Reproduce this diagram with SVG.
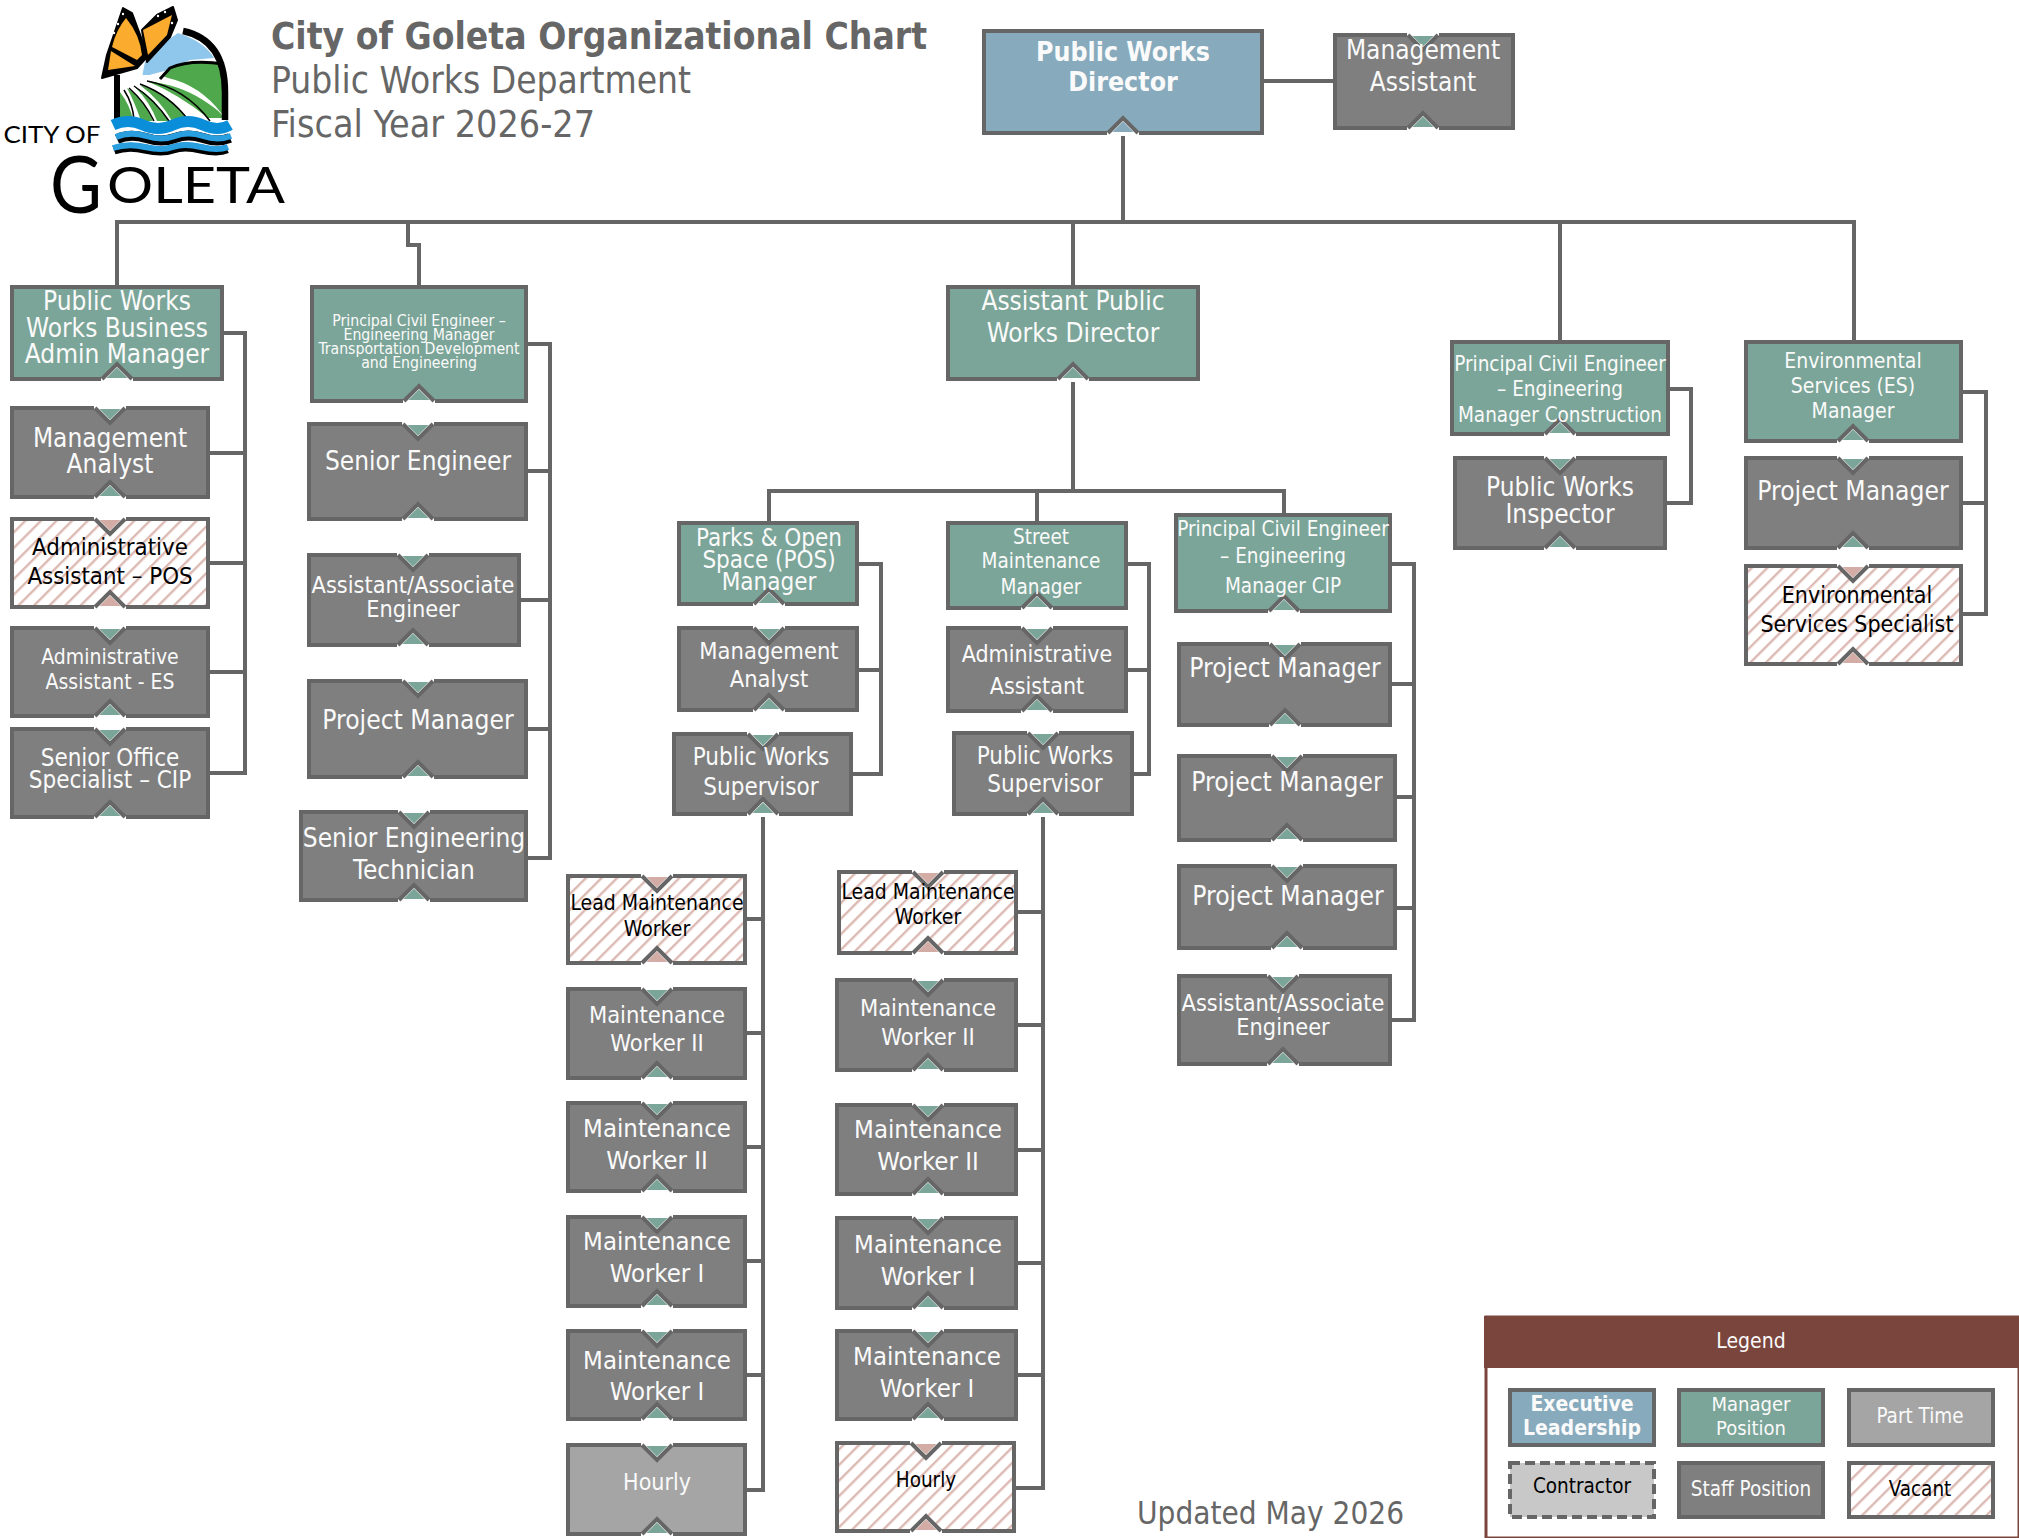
<svg xmlns="http://www.w3.org/2000/svg" width="2019" height="1538" viewBox="0 0 2019 1538">
<style>
text{font-family:"DejaVu Sans Condensed","DejaVu Sans",Tahoma,sans-serif;font-stretch:condensed;text-anchor:middle}
.w{fill:#fafafa}.k{fill:#000}
.b{stroke:#666;stroke-width:4}
.sb{fill:#87aabd}.mg{fill:#7ba598}.st{fill:#7f7f7f}.pt{fill:#a5a5a5}.va{fill:url(#hatch)}
.c{fill:none;stroke:#666;stroke-width:4}
.h{fill:#666;text-anchor:start}
.lg{font-family:Lato,sans-serif;font-stretch:normal;fill:#000}
</style>
<defs>
<pattern id="hatch" width="11" height="11" patternUnits="userSpaceOnUse" patternTransform="rotate(45)"><rect width="11" height="11" fill="#fff"/><rect width="2.4" height="11" fill="#dcb9b3"/></pattern>
<g id="tt"><path d="M-16,-3H16V1L0,17L-16,1Z" fill="#fff"/><path d="M-10.5,1H10.5L0,11.5Z" fill="#7ba598"/><path d="M-15,0L0,15L15,0" fill="none" stroke="#666" stroke-width="4"/></g>
<g id="bt"><path d="M-16,3H16V-1L0,-17L-16,-1Z" fill="#fff"/><path d="M-10.5,-1H10.5L0,-11.5Z" fill="#7ba598"/><path d="M-15,0L0,-15L15,0" fill="none" stroke="#666" stroke-width="4"/></g>
<g id="tp"><path d="M-16,-3H16V1L0,17L-16,1Z" fill="#fff"/><path d="M-10.5,1H10.5L0,11.5Z" fill="#d3aca5"/><path d="M-15,0L0,15L15,0" fill="none" stroke="#666" stroke-width="4"/></g>
<g id="bp"><path d="M-16,3H16V-1L0,-17L-16,-1Z" fill="#fff"/><path d="M-10.5,-1H10.5L0,-11.5Z" fill="#d3aca5"/><path d="M-15,0L0,-15L15,0" fill="none" stroke="#666" stroke-width="4"/></g>
<g id="bb"><path d="M-16,3H16V-1L0,-17L-16,-1Z" fill="#fff"/><path d="M-10.5,-1H10.5L0,-11.5Z" fill="#87aabd"/><path d="M-15,0L0,-15L15,0" fill="none" stroke="#666" stroke-width="4"/></g>
</defs>

<g id="logo">
<path d="M178,33Q205,42 214,58L190,60L168,70L142,77L145,62L165,42Z" fill="#8fc7ec"/>
<path d="M160,78L170,68Q190,60 222,64V118H120V92Z" fill="#4fa84b"/>
<path d="M120,75H160L168,78Q200,85 222,114V120H120Z" fill="#fff"/>
<path d="M147,81Q180,85 203,100T222,118H208Q180,95 147,81Z" fill="#4fa84b"/>
<path d="M120,92Q130,105 133,120H120Z" fill="#4fa84b"/>
<path d="M127,88Q143,98 153,121H141Q135,103 127,88Z" fill="#4fa84b"/>
<path d="M135,87Q155,97 168,121H157Q150,102 135,87Z" fill="#4fa84b"/>
<path d="M140,85Q170,93 188,121H172Q160,100 140,85Z" fill="#4fa84b"/>
<g fill="none" stroke="#000" stroke-width="1.5"><path d="M124,90Q133,104 134,120"/><path d="M129,88Q145,102 154,121"/><path d="M134,86Q155,100 169,121"/><path d="M140,84Q170,95 189,121"/><path d="M147,81Q185,88 210,121"/></g>
<path d="M160,79L170,68Q190,59 224,64" fill="none" stroke="#000" stroke-width="3"/>
<path d="M183,31Q225,40 225,92V120" fill="none" stroke="#000" stroke-width="6.5"/>
<path d="M117,75V120" fill="none" stroke="#000" stroke-width="6"/>
<path d="M113,125Q128,118 143,125T173,125T203,125T230,125" fill="none" stroke="#0a8ed9" stroke-width="11"/>
<g fill="none"><path stroke="#000" stroke-width="10" d="M117,139Q130,133 146,138T175,138T203,138T230,138"/><path stroke="#2a9fe0" stroke-width="6" d="M116,137Q130,131 146,136T175,136T203,136T231,136"/><path stroke="#000" stroke-width="9" d="M114,150Q128,145 145,149T173,149T201,149T227,149"/><path stroke="#2a9fe0" stroke-width="6" d="M113,148Q128,143 145,147T173,147T201,147T228,147"/></g>
<path d="M123,8L107,55L102,78L137,68L147,57L142,40L132,13Z" fill="#000" stroke="#000" stroke-width="2" stroke-linejoin="round"/>
<path d="M126,18Q116,30 112,47L137,60L142,55Q140,35 126,18Z" fill="#fbab2e"/>
<path d="M111,51L108,70L135,66Z" fill="#fbab2e"/>
<path d="M173,7L177,20L170,37L147,62L142,30L157,15Z" fill="#000" stroke="#000" stroke-width="2" stroke-linejoin="round"/>
<path d="M172,15L143,30L148,55L167,35Z" fill="#fbab2e"/>
<g fill="#fff"><circle cx="123" cy="14" r="1.2"/><circle cx="118" cy="24" r="1.2"/><circle cx="114" cy="33" r="1.2"/><circle cx="165" cy="12" r="1.2"/><circle cx="158" cy="16" r="1.2"/><circle cx="172" cy="23" r="1.2"/></g>
<text class="lg" x="52" y="143" font-size="24" textLength="97" lengthAdjust="spacingAndGlyphs">CITY OF</text>
<text class="lg" x="76" y="213" font-size="80" textLength="52" lengthAdjust="spacingAndGlyphs">G</text>
<text class="lg" x="196" y="203" font-size="50" textLength="178" lengthAdjust="spacingAndGlyphs">OLETA</text>
</g>

<g id="title">
<text class="h" x="271" y="49" font-size="37" font-weight="700" textLength="656" lengthAdjust="spacingAndGlyphs">City of Goleta Organizational Chart</text>
<text class="h" x="271" y="93" font-size="37" textLength="420" lengthAdjust="spacingAndGlyphs">Public Works Department</text>
<text class="h" x="271" y="137" font-size="37" textLength="324" lengthAdjust="spacingAndGlyphs">Fiscal Year 2026-27</text>
<text class="h" x="1137" y="1524" font-size="32" textLength="267" lengthAdjust="spacingAndGlyphs">Updated May 2026</text>
</g>

<g id="connectors">
<path class="c" d="M1263,81H1334"/>
<path class="c" d="M1123,125V222"/>
<path class="c" d="M117,286V222H1854V342"/>
<path class="c" d="M408,222V245H419V286"/>
<path class="c" d="M1073,222V491"/>
<path class="c" d="M1560,222V342"/>
<path class="c" d="M769,523V491H1284V515"/>
<path class="c" d="M1037,491V523"/>
<path class="c" d="M223,333H245V773H209M209,453H245M209,563H245M209,672H245"/>
<path class="c" d="M527,344H550V858H527M527,471H550M520,600H550M527,729H550"/>
<path class="c" d="M1669,389H1691V503H1666"/>
<path class="c" d="M1962,392H1986V614H1962M1962,503H1986"/>
<path class="c" d="M858,564H881V774H852M858,670H881"/>
<path class="c" d="M1127,564H1149V774H1133M1127,670H1149"/>
<path class="c" d="M763,815V1490H746M746,919H763M746,1033H763M746,1147H763M746,1261H763M746,1375H763"/>
<path class="c" d="M1043,815V1488H1015M1017,912H1043M1017,1025H1043M1017,1150H1043M1017,1263H1043M1017,1375H1043"/>
<path class="c" d="M1391,564H1414V1020H1391M1391,684H1414M1396,797H1414M1396,908H1414"/>
</g>

<g id="n-director"><rect class="b sb" x="984" y="31" width="278" height="102"/><use href="#bb" x="1123" y="133"/><text class="w" x="1123" y="61" font-size="26.5" font-weight="700">Public Works</text><text class="w" x="1123" y="91" font-size="26.5" font-weight="700">Director</text></g>
<g id="n-mgmt-assistant"><rect class="b st" x="1335" y="35" width="178" height="93"/><use href="#tt" x="1423" y="35"/><use href="#bt" x="1423" y="128"/><text class="w" x="1423" y="59" font-size="26">Management</text><text class="w" x="1423" y="91" font-size="26">Assistant</text></g>

<g id="n-biz-admin"><rect class="b mg" x="12" y="287" width="210" height="92"/><use href="#bt" x="117" y="379"/><text class="w" x="117" y="310" font-size="26">Public Works</text><text class="w" x="117" y="337" font-size="26">Works Business</text><text class="w" x="117" y="363" font-size="26">Admin Manager</text></g>
<g id="n-pce-td"><rect class="b mg" x="312" y="287" width="214" height="114"/><use href="#bt" x="419" y="401"/><text class="w" x="419" y="326" font-size="15.7">Principal Civil Engineer –</text><text class="w" x="419" y="340" font-size="15.7">Engineering Manager</text><text class="w" x="419" y="354" font-size="15.7">Transportation Development</text><text class="w" x="419" y="368" font-size="15.7">and Engineering</text></g>
<g id="n-mgmt-analyst-1"><rect class="b st" x="12" y="408" width="196" height="89"/><use href="#tt" x="110" y="408"/><use href="#bt" x="110" y="497"/><text class="w" x="110" y="447" font-size="26">Management</text><text class="w" x="110" y="473" font-size="26">Analyst</text></g>
<g id="n-admin-pos"><rect class="b va" x="12" y="519" width="196" height="88"/><use href="#tp" x="110" y="519"/><use href="#bp" x="110" y="607"/><text class="k" x="110" y="555" font-size="23.8">Administrative</text><text class="k" x="110" y="584" font-size="23.8">Assistant – POS</text></g>
<g id="n-admin-es"><rect class="b st" x="12" y="628" width="196" height="88"/><use href="#tt" x="110" y="628"/><use href="#bt" x="110" y="716"/><text class="w" x="110" y="664" font-size="21">Administrative</text><text class="w" x="110" y="689" font-size="21">Assistant - ES</text></g>
<g id="n-senior-office"><rect class="b st" x="12" y="729" width="196" height="88"/><use href="#tt" x="110" y="729"/><use href="#bt" x="110" y="817"/><text class="w" x="110" y="766" font-size="24">Senior Office</text><text class="w" x="110" y="788" font-size="24">Specialist – CIP</text></g>

<g id="n-senior-engineer"><rect class="b st" x="309" y="424" width="217" height="95"/><use href="#tt" x="418" y="424"/><use href="#bt" x="418" y="519"/><text class="w" x="418" y="470" font-size="26">Senior Engineer</text></g>
<g id="n-assoc-1"><rect class="b st" x="309" y="555" width="210" height="90"/><use href="#tt" x="413" y="555"/><use href="#bt" x="413" y="645"/><text class="w" x="413" y="593" font-size="23.3">Assistant/Associate</text><text class="w" x="413" y="617" font-size="23.3">Engineer</text></g>
<g id="n-pm-1"><rect class="b st" x="309" y="681" width="217" height="96"/><use href="#tt" x="418" y="681"/><use href="#bt" x="418" y="777"/><text class="w" x="418" y="729" font-size="26.2">Project Manager</text></g>
<g id="n-tech"><rect class="b st" x="301" y="812" width="225" height="88"/><use href="#tt" x="414" y="812"/><use href="#bt" x="414" y="900"/><text class="w" x="414" y="847" font-size="26">Senior Engineering</text><text class="w" x="414" y="879" font-size="26">Technician</text></g>

<g id="n-asst-director"><rect class="b mg" x="948" y="287" width="250" height="92"/><use href="#bt" x="1073" y="379"/><text class="w" x="1073" y="310" font-size="26">Assistant Public</text><text class="w" x="1073" y="342" font-size="26">Works Director</text></g>
<g id="n-pce-const"><rect class="b mg" x="1452" y="342" width="216" height="92"/><use href="#bt" x="1560" y="434"/><text class="w" x="1560" y="371" font-size="20.5">Principal Civil Engineer</text><text class="w" x="1560" y="396" font-size="20.5">– Engineering</text><text class="w" x="1560" y="422" font-size="20.5">Manager Construction</text></g>
<g id="n-inspector"><rect class="b st" x="1455" y="458" width="210" height="90"/><use href="#tt" x="1560" y="458"/><use href="#bt" x="1560" y="548"/><text class="w" x="1560" y="496" font-size="26">Public Works</text><text class="w" x="1560" y="523" font-size="26">Inspector</text></g>
<g id="n-es-manager"><rect class="b mg" x="1746" y="342" width="215" height="99"/><use href="#bt" x="1853" y="441"/><text class="w" x="1853" y="368" font-size="21">Environmental</text><text class="w" x="1853" y="393" font-size="21">Services (ES)</text><text class="w" x="1853" y="418" font-size="21">Manager</text></g>
<g id="n-pm-es"><rect class="b st" x="1746" y="458" width="215" height="90"/><use href="#tt" x="1853" y="458"/><use href="#bt" x="1853" y="548"/><text class="w" x="1853" y="500" font-size="26.2">Project Manager</text></g>
<g id="n-es-specialist"><rect class="b va" x="1746" y="566" width="215" height="98"/><use href="#tp" x="1853" y="566"/><use href="#bp" x="1853" y="664"/><text class="k" x="1857" y="603" font-size="23">Environmental</text><text class="k" x="1857" y="632" font-size="23">Services Specialist</text></g>

<g id="n-parks"><rect class="b mg" x="679" y="523" width="178" height="81"/><use href="#bt" x="769" y="604"/><text class="w" x="769" y="546" font-size="24">Parks &amp; Open</text><text class="w" x="769" y="568" font-size="24">Space (POS)</text><text class="w" x="769" y="590" font-size="24">Manager</text></g>
<g id="n-mgmt-analyst-2"><rect class="b st" x="679" y="628" width="178" height="82"/><use href="#tt" x="769" y="628"/><use href="#bt" x="769" y="710"/><text class="w" x="769" y="659" font-size="23.5">Management</text><text class="w" x="769" y="687" font-size="23.5">Analyst</text></g>
<g id="n-sup-1"><rect class="b st" x="674" y="734" width="177" height="80"/><use href="#tt" x="763" y="734"/><use href="#bt" x="763" y="814"/><text class="w" x="761" y="765" font-size="24">Public Works</text><text class="w" x="761" y="795" font-size="24">Supervisor</text></g>
<g id="n-lead-1"><rect class="b va" x="568" y="876" width="177" height="87"/><use href="#tp" x="657" y="876"/><use href="#bp" x="657" y="963"/><text class="k" x="657" y="910" font-size="21">Lead Maintenance</text><text class="k" x="657" y="936" font-size="21">Worker</text></g>
<g id="n-mw-11"><rect class="b st" x="568" y="989" width="177" height="89"/><use href="#tt" x="657" y="989"/><use href="#bt" x="657" y="1078"/><text class="w" x="657" y="1023" font-size="23.5">Maintenance</text><text class="w" x="657" y="1051" font-size="23.5">Worker II</text></g>
<g id="n-mw-12"><rect class="b st" x="568" y="1103" width="177" height="88"/><use href="#tt" x="657" y="1103"/><use href="#bt" x="657" y="1191"/><text class="w" x="657" y="1137" font-size="25.5">Maintenance</text><text class="w" x="657" y="1169" font-size="25.5">Worker II</text></g>
<g id="n-mw-13"><rect class="b st" x="568" y="1217" width="177" height="89"/><use href="#tt" x="657" y="1217"/><use href="#bt" x="657" y="1306"/><text class="w" x="657" y="1250" font-size="25.5">Maintenance</text><text class="w" x="657" y="1282" font-size="25.5">Worker I</text></g>
<g id="n-mw-14"><rect class="b st" x="568" y="1331" width="177" height="88"/><use href="#tt" x="657" y="1331"/><use href="#bt" x="657" y="1419"/><text class="w" x="657" y="1369" font-size="25.5">Maintenance</text><text class="w" x="657" y="1400" font-size="25.5">Worker I</text></g>
<g id="n-hourly-1"><rect class="b pt" x="568" y="1445" width="177" height="89"/><use href="#tt" x="657" y="1445"/><use href="#bt" x="657" y="1534"/><text class="w" x="657" y="1490" font-size="23">Hourly</text></g>

<g id="n-street"><rect class="b mg" x="948" y="523" width="178" height="85"/><use href="#bt" x="1037" y="608"/><text class="w" x="1041" y="544" font-size="20.5">Street</text><text class="w" x="1041" y="568" font-size="20.5">Maintenance</text><text class="w" x="1041" y="594" font-size="20.5">Manager</text></g>
<g id="n-admin-st"><rect class="b st" x="948" y="628" width="178" height="83"/><use href="#tt" x="1037" y="628"/><use href="#bt" x="1037" y="711"/><text class="w" x="1037" y="662" font-size="23">Administrative</text><text class="w" x="1037" y="694" font-size="23">Assistant</text></g>
<g id="n-sup-2"><rect class="b st" x="954" y="733" width="178" height="81"/><use href="#tt" x="1043" y="733"/><use href="#bt" x="1043" y="814"/><text class="w" x="1045" y="764" font-size="24">Public Works</text><text class="w" x="1045" y="792" font-size="24">Supervisor</text></g>
<g id="n-lead-2"><rect class="b va" x="839" y="872" width="177" height="81"/><use href="#tp" x="928" y="872"/><use href="#bp" x="928" y="953"/><text class="k" x="928" y="899" font-size="21">Lead Maintenance</text><text class="k" x="928" y="924" font-size="21">Worker</text></g>
<g id="n-mw-21"><rect class="b st" x="837" y="980" width="179" height="90"/><use href="#tt" x="928" y="980"/><use href="#bt" x="928" y="1070"/><text class="w" x="928" y="1016" font-size="23.5">Maintenance</text><text class="w" x="928" y="1045" font-size="23.5">Worker II</text></g>
<g id="n-mw-22"><rect class="b st" x="837" y="1105" width="179" height="89"/><use href="#tt" x="928" y="1105"/><use href="#bt" x="928" y="1194"/><text class="w" x="928" y="1138" font-size="25.5">Maintenance</text><text class="w" x="928" y="1170" font-size="25.5">Worker II</text></g>
<g id="n-mw-23"><rect class="b st" x="837" y="1218" width="179" height="90"/><use href="#tt" x="928" y="1218"/><use href="#bt" x="928" y="1308"/><text class="w" x="928" y="1253" font-size="25.5">Maintenance</text><text class="w" x="928" y="1285" font-size="25.5">Worker I</text></g>
<g id="n-mw-24"><rect class="b st" x="837" y="1331" width="179" height="88"/><use href="#tt" x="928" y="1331"/><use href="#bt" x="928" y="1419"/><text class="w" x="927" y="1365" font-size="25.5">Maintenance</text><text class="w" x="927" y="1397" font-size="25.5">Worker I</text></g>
<g id="n-hourly-2"><rect class="b va" x="837" y="1443" width="177" height="88"/><use href="#tp" x="926" y="1443"/><use href="#bp" x="926" y="1531"/><text class="k" x="926" y="1487" font-size="20.5">Hourly</text></g>

<g id="n-pce-cip"><rect class="b mg" x="1176" y="515" width="214" height="96"/><use href="#bt" x="1284" y="611"/><text class="w" x="1283" y="536" font-size="20.5">Principal Civil Engineer</text><text class="w" x="1283" y="563" font-size="20.5">– Engineering</text><text class="w" x="1283" y="593" font-size="20.5">Manager CIP</text></g>
<g id="n-pm-2"><rect class="b st" x="1179" y="644" width="211" height="81"/><use href="#tt" x="1285" y="644"/><use href="#bt" x="1285" y="725"/><text class="w" x="1285" y="677" font-size="26.2">Project Manager</text></g>
<g id="n-pm-3"><rect class="b st" x="1179" y="756" width="216" height="84"/><use href="#tt" x="1287" y="756"/><use href="#bt" x="1287" y="840"/><text class="w" x="1287" y="791" font-size="26.2">Project Manager</text></g>
<g id="n-pm-4"><rect class="b st" x="1179" y="866" width="216" height="82"/><use href="#tt" x="1287" y="866"/><use href="#bt" x="1287" y="948"/><text class="w" x="1288" y="905" font-size="26.2">Project Manager</text></g>
<g id="n-assoc-2"><rect class="b st" x="1179" y="976" width="211" height="88"/><use href="#tt" x="1283" y="976"/><use href="#bt" x="1283" y="1064"/><text class="w" x="1283" y="1011" font-size="23.3">Assistant/Associate</text><text class="w" x="1283" y="1035" font-size="23.3">Engineer</text></g>

<g id="legend">
<rect x="1486" y="1317" width="533" height="221" fill="#fff" stroke="#7a453c" stroke-width="3"/>
<rect x="1484" y="1316" width="535" height="52" fill="#7a453c"/>
<text class="w" x="1751" y="1348" font-size="21">Legend</text>
<rect class="b sb" x="1510" y="1390" width="144" height="55"/><text class="w" x="1582" y="1411" font-size="21" font-weight="700">Executive</text><text class="w" x="1582" y="1435" font-size="21" font-weight="700">Leadership</text>
<rect class="b mg" x="1679" y="1390" width="144" height="55"/><text class="w" x="1751" y="1411" font-size="20">Manager</text><text class="w" x="1751" y="1435" font-size="20">Position</text>
<rect class="b pt" x="1849" y="1390" width="144" height="55"/><text class="w" x="1920" y="1423" font-size="20.5">Part Time</text>
<rect x="1510" y="1463" width="144" height="54" fill="#c8c8c8" stroke="#666" stroke-width="4" stroke-dasharray="10 5"/><text class="k" x="1582" y="1493" font-size="20.5">Contractor</text>
<rect class="b st" x="1679" y="1463" width="144" height="54"/><text class="w" x="1751" y="1496" font-size="20.5">Staff Position</text>
<rect class="b va" x="1849" y="1463" width="144" height="54"/><text class="k" x="1920" y="1496" font-size="20.5">Vacant</text>
</g>
</svg>
